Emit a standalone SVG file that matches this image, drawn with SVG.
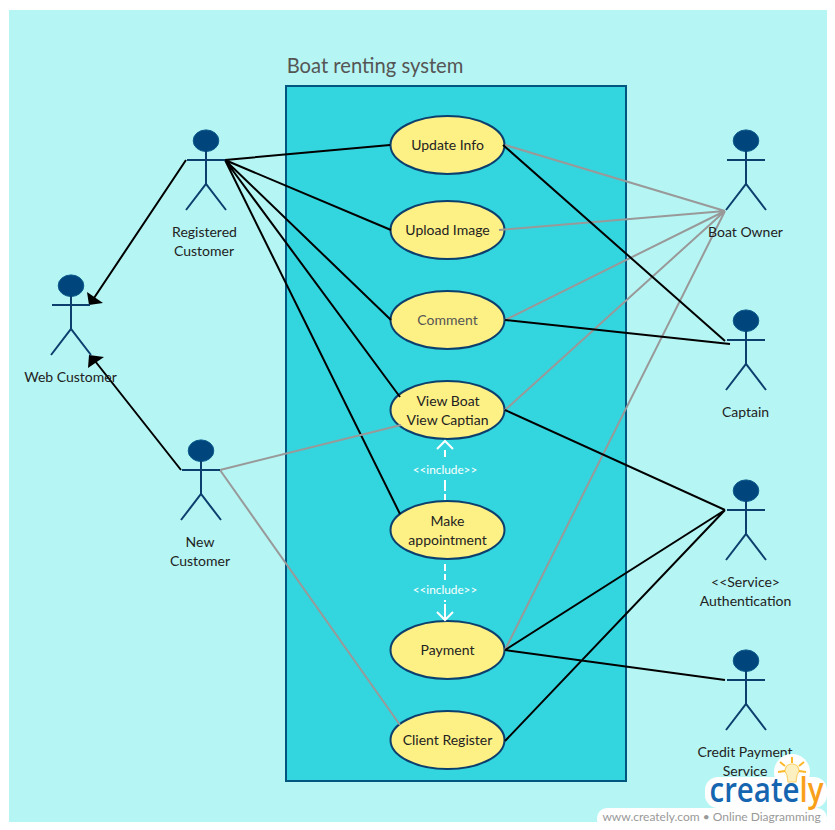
<svg xmlns="http://www.w3.org/2000/svg" width="835" height="830" viewBox="0 0 835 830">
<style>
text{font-family:Lato,"Open Sans","Liberation Sans",sans-serif;font-size:14px;fill:#222;text-anchor:middle}
.head{fill:#00457c;stroke:#0a5a8c;stroke-width:1}
.stick{fill:none;stroke:#0c3f6e;stroke-width:2}
.uc{fill:#fdf084;stroke:#0c3f6e;stroke-width:2}
.k{fill:none;stroke:#000;stroke-width:2}
.g{fill:none;stroke:#999;stroke-width:2}
.w{fill:none;stroke:#fff;stroke-width:2}
.inc{font-size:11.8px;fill:#fff}
</style>
<defs>
<g id="actor"><ellipse class="head" cx="0" cy="-19.3" rx="12.8" ry="10.8"/><path class="stick" d="M-19 0H19M0-9V24M-20 50L0 24L20 50"/></g>
</defs>
<rect width="835" height="830" fill="#fff"/>
<rect x="9" y="10" width="818" height="812" fill="#b5f5f3"/>
<g id="system"><rect x="286" y="86" width="340" height="695" fill="#33d6de" stroke="#00567f" stroke-width="2"/>
<text x="375" y="73" style="font-size:20.2px;fill:#555">Boat renting system</text></g>
<g id="uc-update"><ellipse class="uc" cx="447.5" cy="145" rx="57" ry="29"/><text x="447.5" y="150">Update Info</text></g>
<g id="uc-upload"><ellipse class="uc" cx="447.5" cy="230" rx="57" ry="29"/><text x="447.5" y="235">Upload Image</text></g>
<g id="uc-comment"><ellipse class="uc" cx="447.5" cy="320" rx="57" ry="29"/><text x="447.5" y="325" style="fill:#555">Comment</text></g>
<g id="uc-view"><ellipse class="uc" cx="447.5" cy="410" rx="57" ry="29"/><text x="448" y="406">View Boat</text><text x="447.5" y="425">View Captian</text></g>
<g id="uc-appointment"><ellipse class="uc" cx="447.5" cy="530" rx="57" ry="29"/><text x="447.5" y="526">Make</text><text x="447.5" y="545">appointment</text></g>
<g id="uc-payment"><ellipse class="uc" cx="447.5" cy="650" rx="57" ry="29"/><text x="447.5" y="655">Payment</text></g>
<g id="uc-register"><ellipse class="uc" cx="447.5" cy="740" rx="57" ry="29"/><text x="447.5" y="745">Client Register</text></g>
<g id="connectors">
<path class="k" d="M225 160L390 145M225 160L391 230M225 160L391 320M225 160L400 397M225 160L400 514"/>
<path class="k" d="M186 160L94 298M181 470L95 361"/>
<path d="M87 292L103 303L89 305Z M89 355L104 357L88 368Z" fill="#000"/>
<path class="g" d="M505 145L725 211M499 230L725 211M505 320L725 211M505 410L725 211M505 650L725 211M220 470L401 425M220 470L400 725"/>
<path class="k" d="M503 145L725 341M505 320L730 344M505 410L725 510M505 650L725 510M505 741L725 510M505 650L725 680"/>
<path class="w" d="M445 500V494M445 491V480M445 457V450M437 449L445 441L453 449"/>
<path class="w" d="M445 564V571M445 574V580M445 600V602M445 604V619M437 612L445 620L453 612"/>
</g>
<g id="inc-labels"><text class="inc" x="445" y="474">&lt;&lt;include&gt;&gt;</text><text class="inc" x="445" y="594">&lt;&lt;include&gt;&gt;</text></g>
<g id="actor-registered"><use href="#actor" x="206" y="160"/><text x="204.5" y="237">Registered</text><text x="204" y="256">Customer</text></g>
<g id="actor-web"><use href="#actor" x="71" y="305"/><text x="70.5" y="382">Web Customer</text></g>
<g id="actor-new"><use href="#actor" x="201" y="470"/><text x="200" y="547">New</text><text x="200" y="566">Customer</text></g>
<g id="actor-owner"><use href="#actor" x="746" y="160"/><text x="745.5" y="237">Boat Owner</text></g>
<g id="actor-captain"><use href="#actor" x="746" y="340"/><text x="745.5" y="417">Captain</text></g>
<g id="actor-auth"><use href="#actor" x="746" y="510"/><text x="745.5" y="587">&lt;&lt;Service&gt;</text><text x="745.5" y="606">Authentication</text></g>
<g id="actor-credit"><use href="#actor" x="746" y="680"/><text x="745" y="757">Credit Payment</text><text x="745" y="776">Service</text></g>
<g id="watermark">
<rect x="597" y="808" width="230" height="22" rx="10" fill="#fff"/>
<rect x="705" y="777" width="122" height="31" rx="13" fill="#fff"/>
<circle cx="792" cy="772" r="18" fill="#fff"/>
<path d="M787 775C783 770 786 764 792 764C798 764 801 770 797 775L796 782H788Z" fill="#fdf0c0" stroke="#fbd26a" stroke-width="1.2"/>
<path d="M792 757V763M780 762L785 766M804 762L799 766M778 772L785 771M806 772L799 771" stroke="#fbb829" stroke-width="2" fill="none"/>
<text x="766.5" y="802" textLength="114" lengthAdjust="spacingAndGlyphs" style="font-size:35px;font-weight:600;fill:#1565b0;font-family:'Open Sans',Lato,sans-serif">create<tspan fill="#f9a01b">ly</tspan></text>
<text x="711.5" y="821" style="font-size:12px;fill:#999">www.creately.com • Online Diagramming</text>
</g>
</svg>
